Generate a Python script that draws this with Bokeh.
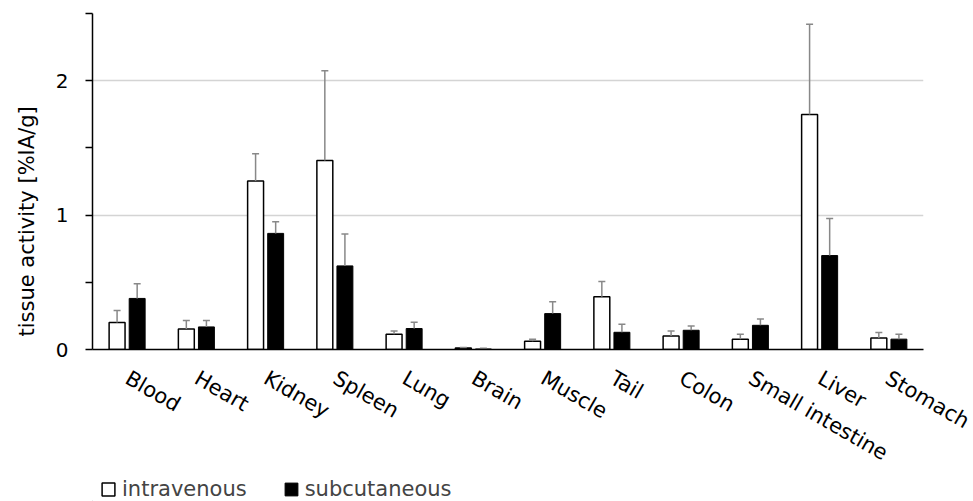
import math
from bokeh.plotting import figure
from bokeh.layouts import column
from bokeh.models import (ColumnDataSource, FactorRange, FixedTicker, Legend, LegendItem,
                          Whisker, TeeHead, Title)
from bokeh.transform import dodge
from bokeh.embed import file_html
from bokeh.resources import INLINE

# ---- data ----
categories = ["Blood", "Heart", "Kidney", "Spleen", "Lung", "Brain", "Muscle",
              "Tail", "Colon", "Small intestine", "Liver", "Stomach"]
iv_mean = [0.20, 0.153, 1.254, 1.407, 0.113, 0.012, 0.062, 0.393, 0.101, 0.077, 1.748, 0.086]
iv_err_top = [0.29, 0.215, 1.457, 2.074, 0.138, 0.014, 0.077, 0.506, 0.138, 0.113, 2.42, 0.126]
sc_mean = [0.38, 0.168, 0.864, 0.622, 0.156, 0.004, 0.267, 0.128, 0.143, 0.18, 0.699, 0.077]
sc_err_top = [0.49, 0.215, 0.950, 0.859, 0.202, 0.010, 0.356, 0.188, 0.175, 0.227, 0.975, 0.113]
y_ticks = [0, 0.5, 1, 1.5, 2, 2.5]
y_tick_labels = {0: "0", 0.5: "", 1: "1", 1.5: "", 2: "2", 2.5: ""}
series_names = ["intravenous", "subcutaneous"]
y_title = "tissue activity [%IA/g]"

FONT = "DejaVu Sans"

src = ColumnDataSource(dict(cat=categories, iv=iv_mean, iv_up=iv_err_top,
                            sc=sc_mean, sc_up=sc_err_top))

p = figure(width=973, height=478, x_range=FactorRange(*categories, range_padding=0),
           y_range=(0, 2.5), output_backend="svg", toolbar_location=None,
           min_border_left=92, min_border_right=50, min_border_top=13, min_border_bottom=128)
p.outline_line_color = None

OFF = 0.145
W = 0.23
r_iv = p.vbar(x=dodge("cat", -OFF, range=p.x_range), top="iv", width=W, source=src,
              fill_color="white", line_color="black", line_width=1.5)
r_sc = p.vbar(x=dodge("cat", OFF, range=p.x_range), top="sc", width=W, source=src,
              fill_color="black", line_color="black", line_width=1)

for off, lo, up in [(-OFF, "iv", "iv_up"), (OFF, "sc", "sc_up")]:
    w = Whisker(base=dodge("cat", off, range=p.x_range), lower=lo, upper=up, source=src,
                dimension="height", line_color="#888888", line_width=1.5,
                upper_head=TeeHead(size=7, line_color="#888888", line_width=1.5),
                lower_head=None, level="glyph")
    p.add_layout(w)

# y axis
p.yaxis.ticker = FixedTicker(ticks=y_ticks)
p.yaxis.major_label_overrides = y_tick_labels
p.yaxis.minor_tick_line_color = None
p.yaxis.major_tick_out = 7
p.yaxis.major_tick_in = 0
p.yaxis.axis_line_width = 1.5
p.yaxis.major_tick_line_width = 1.5
p.yaxis.major_label_standoff = 17
p.yaxis.major_label_text_font = FONT
p.yaxis.major_label_text_font_size = "20px"
p.yaxis.major_label_text_color = "black"

yt = Title(text=y_title, align="left", offset=13, vertical_align="top",
           text_font=FONT, text_font_size="21px",
           text_font_style="normal", text_color="black", standoff=24)
p.add_layout(yt, "left")

# grid
p.xgrid.grid_line_color = None
p.ygrid.ticker = FixedTicker(ticks=[1, 2])
p.ygrid.grid_line_color = "#d4d4d4"
p.ygrid.grid_line_width = 1.5

# x axis
p.xaxis.major_tick_line_color = None
p.xaxis.major_tick_out = 0
p.xaxis.major_tick_in = 0
p.xaxis.axis_line_width = 1.5
p.xaxis.major_label_orientation = -math.pi / 6
p.xaxis.major_label_standoff = 27
p.xaxis.major_label_text_font = FONT
p.xaxis.major_label_text_font_size = "21px"
p.xaxis.major_label_text_color = "black"

# legend strip below the chart (dummy glyphs kept outside the visible range)
p2 = figure(width=973, height=23, x_range=(0, 1), y_range=(0, 1), output_backend="svg",
            toolbar_location=None, x_axis_location=None, y_axis_location=None,
            min_border=0)
p2.outline_line_color = None
p2.grid.grid_line_color = None
g_iv = p2.vbar(x=[-5], top=[-5], width=0.1, fill_color="white", line_color="black", line_width=1.5)
g_sc = p2.vbar(x=[-5], top=[-5], width=0.1, fill_color="black", line_color="black")
legend = Legend(items=[LegendItem(label=series_names[0], renderers=[g_iv]),
                       LegendItem(label=series_names[1], renderers=[g_sc])],
                orientation="horizontal", location=(8, 0),
                glyph_width=16, glyph_height=16, label_standoff=6, spacing=36,
                padding=0, margin=0, border_line_color=None, background_fill_alpha=0,
                label_text_font=FONT, label_text_font_size="21px", label_height=13)
p2.add_layout(legend, "center")

open("out.html", "w").write(file_html(column(p, p2, spacing=0), INLINE))
